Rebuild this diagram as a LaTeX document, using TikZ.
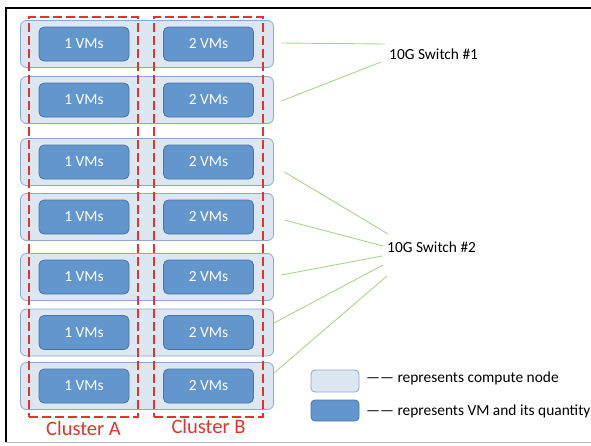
\documentclass[tikz,border=0pt]{standalone}
\usepackage{fontspec}
\setmainfont{Carlito}
\usetikzlibrary{positioning, calc}

\definecolor{cnfill}{RGB}{221,231,242}
\definecolor{cnedge}{RGB}{140,168,204}
\definecolor{vmfill}{RGB}{99,150,204}
\definecolor{vmedge}{RGB}{72,116,166}
\definecolor{clred}{RGB}{230,50,45}
\definecolor{linkgreen}{RGB}{172,212,140}

\tikzset{
  compute/.style={draw=cnedge, fill=cnfill, rounded corners=6pt, line width=0.8pt,
    minimum width=253pt, minimum height=47pt},
  vm/.style={draw=vmedge, fill=vmfill, rounded corners=5pt, line width=0.8pt,
    minimum width=90pt, minimum height=34pt, text=white, font=\fontsize{15.4}{18}\selectfont},
  cluster/.style={draw=clred, line width=2pt, dash pattern=on 9pt off 4pt,
    minimum width=109pt, minimum height=400pt},
  clusterlabel/.style={text=clred, inner sep=0pt, font=\fontsize{20.5}{24}\selectfont},
  switch/.style={inner sep=0pt, font=\fontsize{15.4}{18}\selectfont},
  link/.style={draw=linkgreen, line width=0.9pt},
  keytext/.style={inner sep=0pt, anchor=west, font=\fontsize{15.4}{18}\selectfont}
}

\begin{document}
\begin{tikzpicture}[x=1pt, y=-1pt]
    \useasboundingbox (0,0) rectangle (591,445);

    % Frame
    \draw[black, line width=2pt] (5.5,442) -- (5.5,7.5) -- (591,7.5);
    \draw[gray!55, line width=1pt] (5.5,442.5) -- (591,442.5);

    % Compute nodes, each with two VM boxes
    \foreach \i/\y in {1/44, 2/100, 3/162, 4/217, 5/277, 6/332.5, 7/386} {
        \node[compute] (cn\i) at (147,\y) {};
        \node[vm] (vma\i) at (84,\y) {1 VMs};
        \node[vm] (vmb\i) at (208.5,\y) {2 VMs};
    }

    % Clusters (dashed red)
    \node[cluster] (clA) at (83.5,217) {};
    \node[cluster] (clB) at (208.5,216.5) {};
    \node[clusterlabel, anchor=base] (labA) at ([yshift=-17pt]clA.south) {Cluster A};
    \node[clusterlabel, anchor=base] (labB) at ([yshift=-16pt]clB.south) {Cluster B};

    % Switches
    \node[switch, anchor=west] (sw1) at (389,54) {10G Switch \#1};
    \node[switch, anchor=west] (sw2) at (387,247) {10G Switch \#2};

    % Links from compute nodes to switches
    \foreach \i/\sx/\sy/\sw/\ex/\ey in {1/7.5/-1/sw1/-4/-10, 2/7.5/1/sw1/-8/8,
        3/10.5/10/sw2/1/-13, 4/10.5/3/sw2/-4/-1, 5/7.5/-2/sw2/-5/9,
        6/0/-9.5/sw2/-4/18, 7/0/-13/sw2/0/29} {
        \draw[link] ($(cn\i.east)+(\sx,\sy)$) -- ($(\sw.west)+(\ex,\ey)$);
    }

    % Legend
    \node[compute, minimum width=48pt, minimum height=22pt, rounded corners=4pt] (keycn) at (335,381) {};
    \node[vm, minimum width=48pt, minimum height=21pt, rounded corners=4pt] (keyvm) at (335,410.5) {};
    \node[keytext] (keycntext) at (366,378) {—— represents compute node};
    \node[keytext] (keyvmtext) at (366,411) {—— represents VM and its quantity};
\end{tikzpicture}
\end{document}
